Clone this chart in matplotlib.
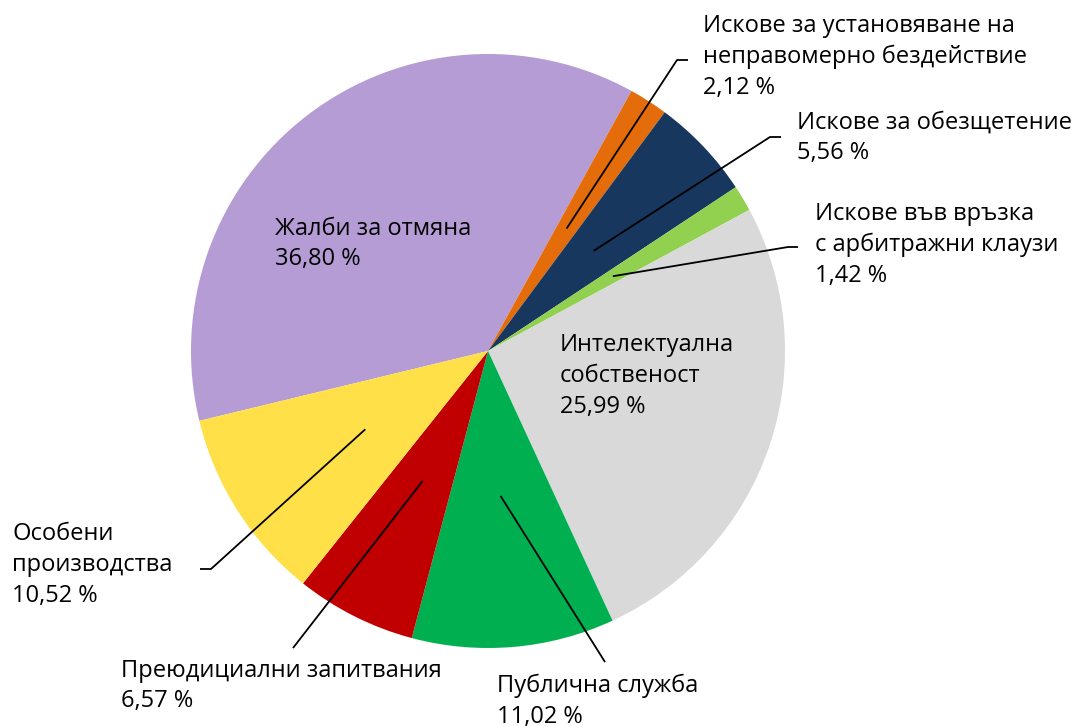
import numpy as np
import matplotlib
matplotlib.use("Agg")
import matplotlib.pyplot as plt

plt.rcParams["font.family"] = ["Open Sans", "DejaVu Sans"]

# --- данни ---
labels = [
    "Жалби за отмяна",
    "Искове за установяване на\nнеправомерно бездействие",
    "Искове за обезщетение",
    "Искове във връзка\nс арбитражни клаузи",
    "Интелектуална\nсобственост",
    "Публична служба",
    "Преюдициални запитвания",
    "Особени\nпроизводства",
]
values = [36.80, 2.12, 5.56, 1.42, 25.99, 11.02, 6.57, 10.52]
colors = ["#B59CD4", "#E46C0A", "#17375E", "#92D050",
          "#D9D9D9", "#00B050", "#C00000", "#FFE048"]

W, H = 1078, 726
CX, CY, R = 488, 351, 297


def px(x, y):
    # пиксели -> координати на данните (радиус на кръга = 1)
    return (x - CX) / R, (CY - y) / R


fig = plt.figure(figsize=(W / 100, H / 100), dpi=100)
ax = fig.add_axes([0, 0, 1, 1])
wedges, _ = ax.pie(values, colors=colors, startangle=193.6, counterclock=False,
                   radius=1, wedgeprops=dict(linewidth=0))
ax.set_xlim(px(0, 0)[0], px(W, 0)[0])
ax.set_ylim(px(0, H)[1], px(0, 0)[1])
ax.set_aspect("auto")
ax.axis("off")

# позиция на текста (ляв край, център по вертикала) и лакът на линията
layout = {
    0: dict(text=(275, 244), elbow=None),
    1: dict(text=(703, 57), elbow=[(677, 60), (688, 60)]),
    2: dict(text=(797, 138), elbow=[(770, 137), (781, 137)]),
    3: dict(text=(815, 245), elbow=[(788, 247), (798, 247)]),
    4: dict(text=(560, 376), elbow=None),
    5: dict(text=(497, 701), elbow=[(605, 662)]),
    6: dict(text=(121, 686), elbow=[(293, 648)]),
    7: dict(text=(12, 565), elbow=[(211, 569), (200, 569)]),
}

for i, (lab, val, w) in enumerate(zip(labels, values, wedges)):
    s = f"{lab}\n{val:.2f} %".replace(".", ",")
    tx, ty = px(*layout[i]["text"])
    ax.text(tx, ty, s, ha="left", va="center", fontsize=17,
            linespacing=1.38, color="black")
    if layout[i]["elbow"]:
        mid = np.deg2rad((w.theta1 + w.theta2) / 2)
        pts = [(0.49 * np.cos(mid), 0.49 * np.sin(mid))]
        pts += [px(*p) for p in layout[i]["elbow"]]
        xs, ys = zip(*pts)
        ax.plot(xs, ys, color="black", linewidth=1.3, solid_capstyle="butt")

fig.savefig("out.png", dpi=100)
